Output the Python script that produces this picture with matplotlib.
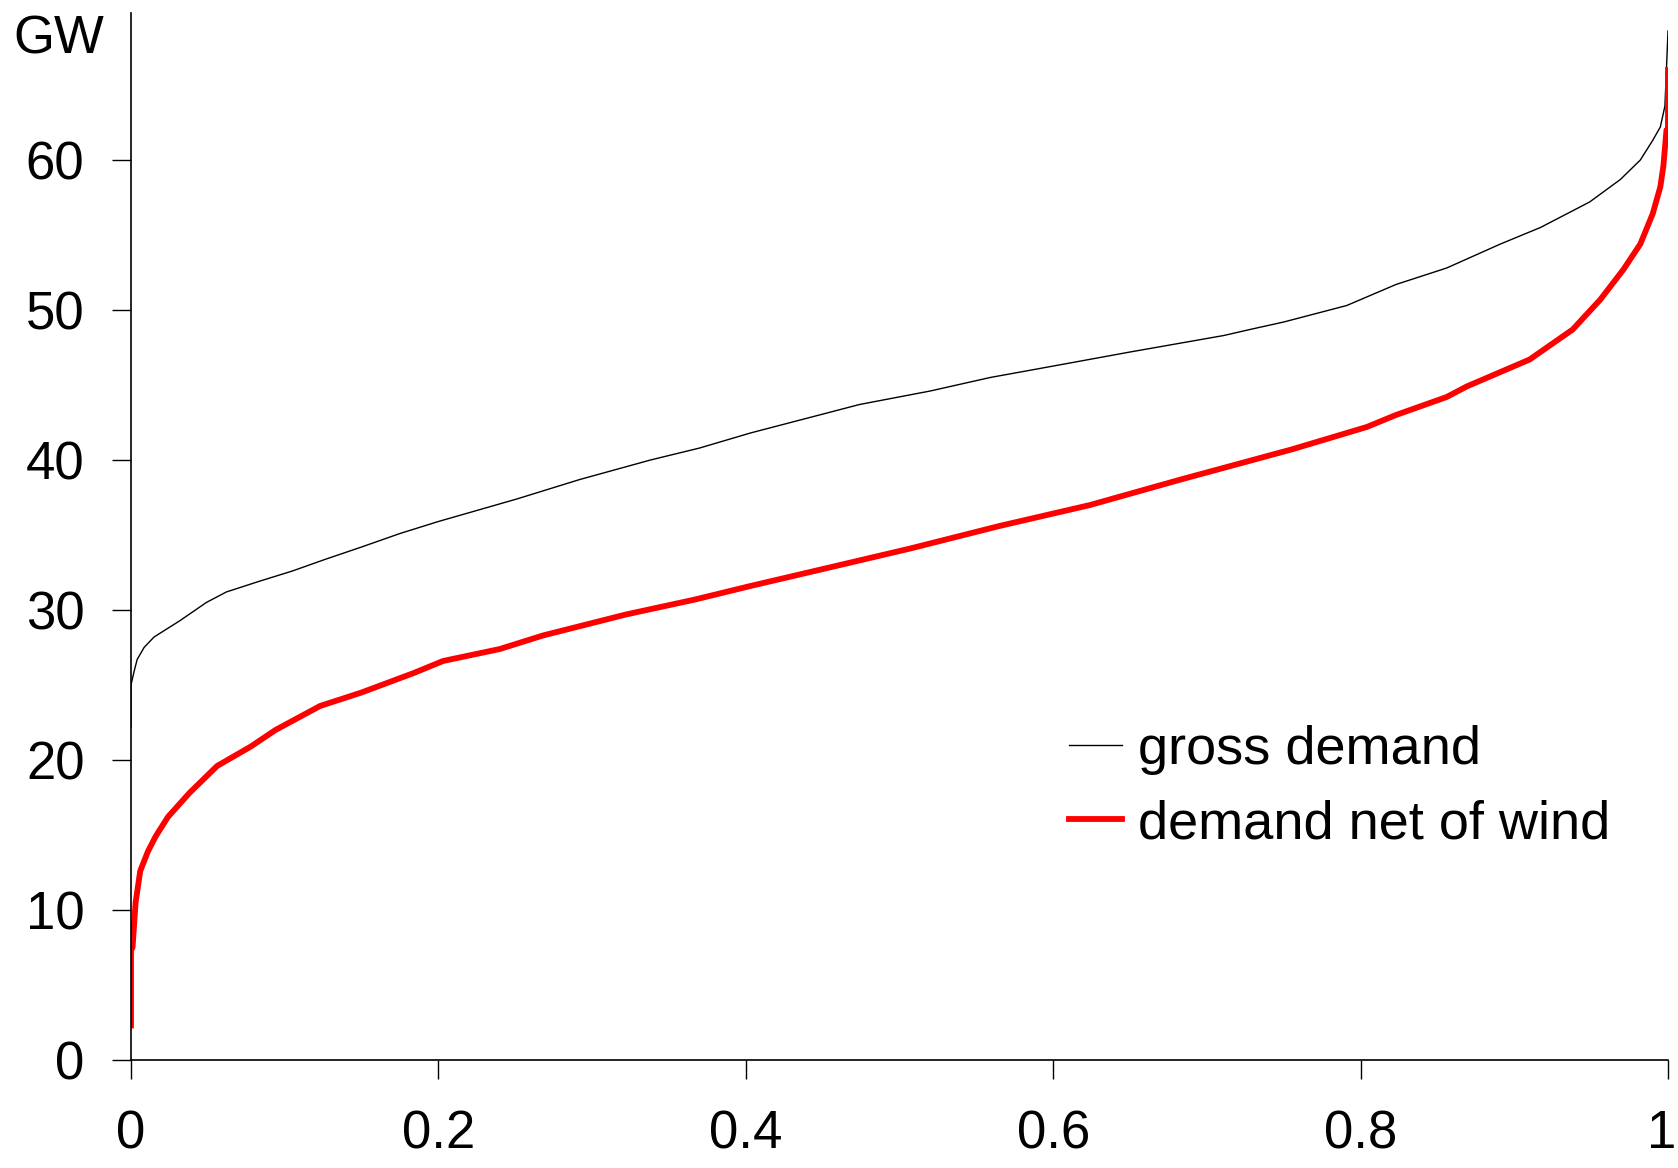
#!/usr/bin/env python3
"""
Load duration curves: gross demand vs demand net of wind
"""

import matplotlib
matplotlib.use("Agg")
import matplotlib.pyplot as plt
import matplotlib.transforms as mtransforms

# share of hours (sorted) and GW
gross_x = [0.0, 0.0, 0.002, 0.004, 0.0085, 0.015, 0.032, 0.049, 0.062, 0.083,
           0.105, 0.127, 0.150, 0.175, 0.200, 0.251, 0.292, 0.338, 0.370,
           0.403, 0.474, 0.520, 0.559, 0.602, 0.650, 0.711, 0.728, 0.750,
           0.791, 0.823, 0.856, 0.891, 0.917, 0.949, 0.969, 0.982, 0.990,
           0.995, 0.998, 1.0]
gross_gw = [22.2, 25.0, 25.9, 26.7, 27.5, 28.2, 29.3, 30.5, 31.2, 31.9,
            32.6, 33.4, 34.2, 35.1, 35.9, 37.4, 38.7, 40.0, 40.8,
            41.8, 43.7, 44.6, 45.5, 46.3, 47.2, 48.3, 48.7, 49.2,
            50.3, 51.7, 52.8, 54.4, 55.5, 57.2, 58.7, 60.0, 61.3,
            62.2, 63.6, 68.6]

net_x = [0.0, 0.0, 0.001, 0.003, 0.006, 0.011, 0.016, 0.024, 0.038, 0.056,
         0.078, 0.094, 0.123, 0.150, 0.184, 0.203, 0.240, 0.268, 0.322,
         0.367, 0.403, 0.453, 0.507, 0.565, 0.624, 0.683, 0.755, 0.804,
         0.823, 0.856, 0.869, 0.910, 0.938, 0.956, 0.971, 0.982, 0.990,
         0.995, 0.997, 0.999, 1.0, 1.0]
net_gw = [2.3, 7.3, 7.5, 10.5, 12.6, 13.9, 14.9, 16.2, 17.8, 19.6,
          20.9, 22.0, 23.6, 24.5, 25.8, 26.6, 27.4, 28.3, 29.7,
          30.7, 31.6, 32.8, 34.1, 35.6, 37.0, 38.7, 40.7, 42.2,
          43.0, 44.2, 44.9, 46.7, 48.7, 50.7, 52.7, 54.4, 56.4,
          58.2, 59.6, 62.0, 62.0, 66.0]

x_ticks = [0, 0.2, 0.4, 0.6, 0.8, 1]
x_labels = ["0", "0.2", "0.4", "0.6", "0.8", "1"]
y_ticks = [0, 10, 20, 30, 40, 50, 60]

plt.rcParams['font.family'] = ['Liberation Sans', 'DejaVu Sans']

fig = plt.figure(figsize=(16.78, 11.68), dpi=100)
ax = fig.add_axes([131 / 1678, 108 / 1168, 1537 / 1678, 1047 / 1168])

ax.plot(gross_x, gross_gw, color='black', lw=1.0, label='gross demand')
ax.plot(net_x, net_gw, color='#ff0000', lw=4.2, label='demand net of wind')

ax.set_xlim(0, 1)
ax.set_ylim(0, 69.8)
ax.set_xticks(x_ticks)
ax.set_xticklabels(x_labels)
ax.set_yticks(y_ticks)

for side in ['top', 'right']:
    ax.spines[side].set_visible(False)
for side in ['left', 'bottom']:
    ax.spines[side].set_linewidth(1.2)
ax.tick_params(axis='both', direction='out', length=13.5, width=1.0,
               labelsize=38)
ax.tick_params(axis='x', pad=22)
ax.tick_params(axis='y', pad=20)

# the last x label sits right at the figure edge, nudge it in a bit
last = ax.get_xticklabels()[-1]
last.set_transform(last.get_transform() +
                   mtransforms.ScaledTranslation(-6 / 100, 0, fig.dpi_scale_trans))

fig.text(13 / 1678, (1168 - 53) / 1168, "GW", fontsize=38,
         ha='left', va='baseline')

ax.legend(loc='center left', bbox_to_anchor=(1069 / 1678, (1168 - 787) / 1168),
          bbox_transform=fig.transFigure, frameon=False, fontsize=39,
          borderpad=0, borderaxespad=0, handlelength=0.98,
          handletextpad=0.3, labelspacing=0.46)

fig.savefig('out.png', dpi=100)
